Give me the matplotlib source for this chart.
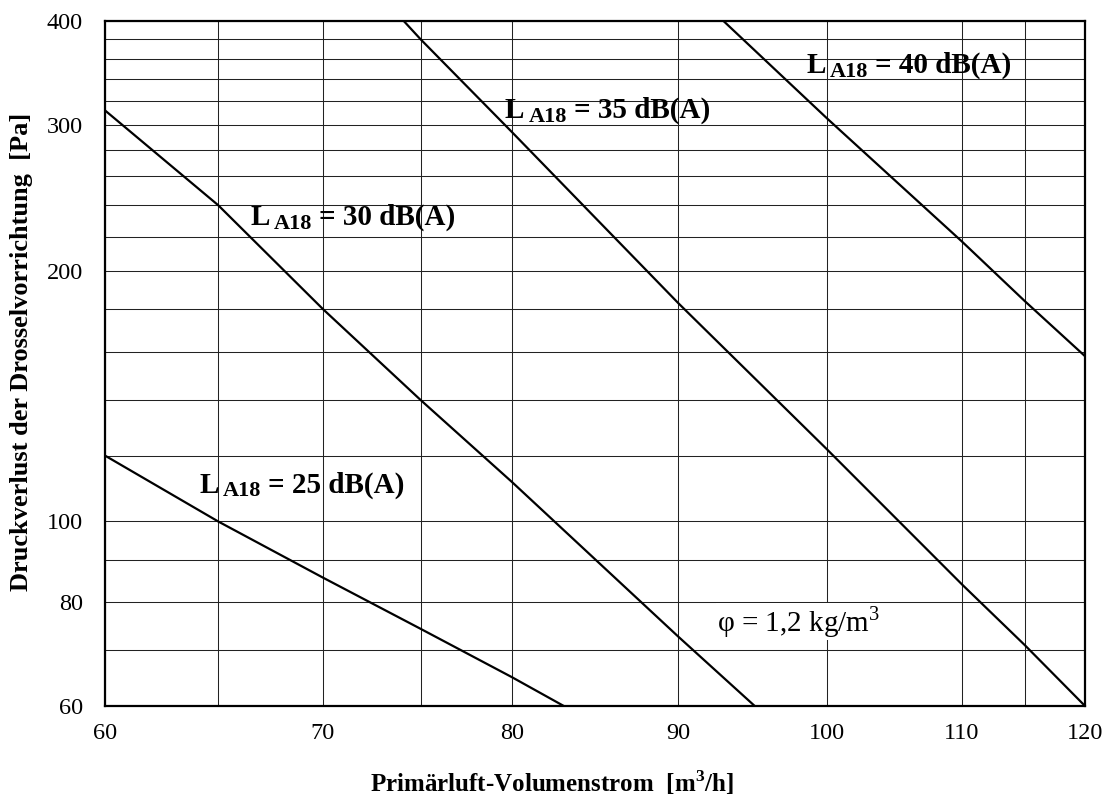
import matplotlib
matplotlib.use('Agg')
import matplotlib.pyplot as plt
from matplotlib.ticker import NullFormatter

plt.rcParams['font.family'] = ['Liberation Serif', 'DejaVu Serif']
plt.rcParams['mathtext.fontset'] = 'custom'
plt.rcParams['mathtext.rm'] = 'Liberation Serif'
plt.rcParams['mathtext.bf'] = 'Liberation Serif:bold'

# Primaerluft-Volumenstrom [m3/h] und Druckverlust [Pa] je Schallpegelkurve
flow_25 = [60, 65, 70, 75, 80, 83]
dp_25 = [120, 100, 85.6, 74.3, 65, 60]
flow_30 = [60, 65, 70, 75, 80, 90, 95]
dp_30 = [312, 240, 180, 140, 111.6, 72.7, 60]
flow_35 = [74.1, 75, 80, 90, 100, 110, 115, 120]
dp_35 = [400, 380, 294, 183, 122, 84, 71, 60]
flow_40 = [92.9, 100, 110, 115, 120]
dp_40 = [400, 305, 217, 184, 158]

levels = ['25', '30', '35', '40']

x_ticks = [60, 70, 80, 90, 100, 110, 120]
x_minor = [65, 75, 115]
y_ticks = [60, 80, 100, 200, 300, 400]
y_minor = [70, 90, 120, 140, 160, 180, 220, 240, 260, 280, 320, 340, 360, 380]

fig = plt.figure(figsize=(11.09, 8.01), dpi=100)
ax = fig.add_axes([0.0947, 0.1186, 0.8837, 0.8556])

# curves
for flow, dp in [(flow_25, dp_25), (flow_30, dp_30), (flow_35, dp_35), (flow_40, dp_40)]:
    ax.plot(flow, dp, color='black', lw=1.6, zorder=3)

ax.set_xscale('log')
ax.set_yscale('log')
ax.set_xlim(60, 120)
ax.set_ylim(60, 400)

ax.set_xticks(x_ticks)
ax.set_xticklabels([str(v) for v in x_ticks])
ax.set_xticks(x_minor, minor=True)
ax.set_yticks(y_ticks)
ax.set_yticklabels([str(v) for v in y_ticks])
ax.set_yticks(y_minor, minor=True)
ax.xaxis.set_minor_formatter(NullFormatter())
ax.yaxis.set_minor_formatter(NullFormatter())

ax.tick_params(which='both', length=0, labelsize=17.5)
ax.tick_params(axis='x', pad=12)
ax.tick_params(axis='y', pad=16)

ax.set_axisbelow(True)
ax.grid(which='both', color='#222222', lw=0.75)
for s in ax.spines.values():
    s.set_linewidth(1.6)
    s.set_color('black')


def level_label(xf, yf, level):
    t1 = ax.text(xf, yf, 'L', transform=ax.transAxes, fontsize=21,
                 fontweight='bold', va='baseline', zorder=4)
    t2 = ax.annotate('A18', xy=(1, 0), xycoords=t1, xytext=(3, -2),
                     textcoords='offset points', fontsize=16,
                     fontweight='bold', va='bottom', zorder=4)
    ax.annotate('= ' + level + ' dB(A)', xy=(1, 0), xycoords=(t2, t1),
                xytext=(5, 0), textcoords='offset points', fontsize=21,
                fontweight='bold', va='bottom', zorder=4)


label_pos = [(0.0962, 0.3113), (0.148, 0.702), (0.408, 0.8576), (0.7153, 0.9237)]
for (xf, yf), lev in zip(label_pos, levels):
    level_label(xf, yf, lev)

ax.text(0.6242, 0.1094, 'φ = 1,2 kg/m$^3$', transform=ax.transAxes, fontsize=21,
        va='baseline', zorder=4,
        bbox=dict(facecolor='white', edgecolor='none', pad=0.5))

fig.text(0.4977, 0.0225, r'Primärluft-Volumenstrom  [m$^\mathbf{3}$/h]', fontsize=18,
         fontweight='bold', ha='center', va='center')
fig.text(0.0198, 0.5612, 'Druckverlust der Drosselvorrichtung  [Pa]', fontsize=19,
         fontweight='bold', ha='center', va='center', rotation=90)

fig.savefig('out.png', dpi=100)
